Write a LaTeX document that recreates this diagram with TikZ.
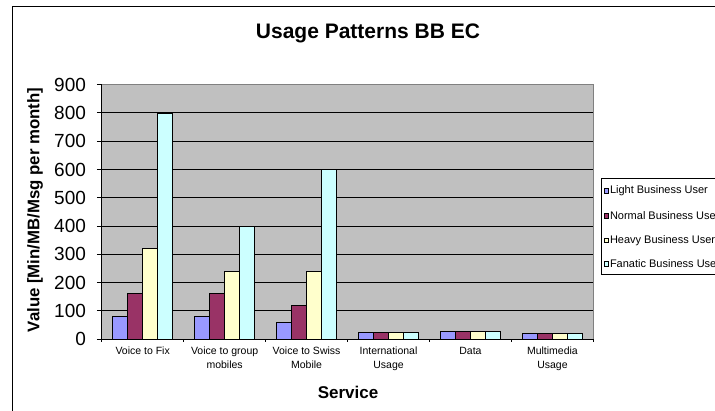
\documentclass[tikz,border=0pt]{standalone}
\usepackage{fontspec}
\setmainfont{Liberation Sans}
\definecolor{plotbg}{HTML}{C0C0C0}
\definecolor{plotedge}{HTML}{808080}
\definecolor{serLight}{HTML}{9999FF}
\definecolor{serNormal}{HTML}{993366}
\definecolor{serHeavy}{HTML}{FFFFCC}
\definecolor{serFanatic}{HTML}{CCFFFF}
\tikzset{
  barbox/.style={draw=black, line width=0.8pt},
  gridline/.style={draw=black, line width=0.9pt},
  axisline/.style={draw=black, line width=0.9pt},
  ticklab/.style={font=\fontsize{19}{19}\selectfont, inner sep=0pt, anchor=east},
  catlab/.style={font=\fontsize{10.5}{13.5}\selectfont, align=center, anchor=north, inner sep=0pt},
  legtext/.style={font=\fontsize{11}{13}\selectfont, anchor=west, inner sep=0pt},
  legmark/.style={draw=black, line width=0.6pt, minimum size=4.5pt, inner sep=0pt},
}
\begin{document}
\begin{tikzpicture}[x=1pt,y=1pt]
  \useasboundingbox (0,0) rectangle (715,410);
  \clip (0,0) rectangle (715,410);
  \fill[white] (0,0) rectangle (715,410);
  % chart frame
  \draw[line width=0.9pt] (12,404) rectangle (740,-20);

  % title
  \node[font=\bfseries\fontsize{21}{21}\selectfont] (title) at (368,377) {Usage Patterns BB EC};

  % plot area
  \begin{scope}[shift={(101.7pt,71pt)}, x=81.95pt, y=0.28256pt]
    \fill[plotbg] (0,0) rectangle (6,900);
    \foreach \v in {100,200,...,800} \draw[gridline] (0,\v) -- (6,\v);
    \draw[plotedge, line width=1pt] (0,900) -- (6,900) -- (6,0);
    % bars: light, normal, heavy, fanatic
    \foreach \i/\a/\b/\c/\d in {0/80/160/320/800, 1/80/160/240/400, 2/60/120/240/600,
                                3/23/23/23/23, 4/27/27/27/27, 5/20/20/20/20} {
      \draw[barbox, fill=serLight]   ({\i+0.75/5.5},0) rectangle ({\i+1.75/5.5},\a);
      \draw[barbox, fill=serNormal]  ({\i+1.75/5.5},0) rectangle ({\i+2.75/5.5},\b);
      \draw[barbox, fill=serHeavy]   ({\i+2.75/5.5},0) rectangle ({\i+3.75/5.5},\c);
      \draw[barbox, fill=serFanatic] ({\i+3.75/5.5},0) rectangle ({\i+4.75/5.5},\d);
    }
    % axes and ticks
    \draw[axisline] (0,900) -- (0,0) -- (6,0);
    \foreach \v in {0,100,...,900} {
      \draw[axisline] (-0.06,\v) -- (0,\v);
      \node[ticklab] (tick\v) at (-0.19,\v) {\v};
    }
    \foreach \k in {0,...,6} \draw[axisline] (\k,0) -- (\k,-12);
    % category labels
    \node[catlab] (c0) at (0.5,-28) {Voice to Fix};
    \node[catlab] (c1) at (1.5,-28) {Voice to group\\mobiles};
    \node[catlab] (c2) at (2.5,-28) {Voice to Swiss\\Mobile};
    \node[catlab] (c3) at (3.5,-28) {International\\Usage};
    \node[catlab] (c4) at (4.5,-28) {Data};
    \node[catlab] (c5) at (5.5,-28) {Multimedia\\Usage};
  \end{scope}

  % axis titles
  \node[font=\bfseries\fontsize{16.8}{16.8}\selectfont, rotate=90] (ytitle) at (35,200) {Value [Min/MB/Msg per month]};
  \node[font=\bfseries\fontsize{17}{17}\selectfont] (xtitle) at (348,18) {Service};

  % legend
  \draw[line width=0.8pt, fill=white] (601.7,135.7) rectangle (740,231.7);
  \foreach \n/\col/\yy/\txt in {l1/serLight/219.3/Light Business User,
                                l2/serNormal/194.0/Normal Business User,
                                l3/serHeavy/169.7/Heavy Business User,
                                l4/serFanatic/146.3/Fanatic Business User} {
    \node[legmark, fill=\col] (\n m) at (606.5,\yy) {};
    \node[legtext] (\n t) at (609.8,\yy) {\txt};
  }
\end{tikzpicture}
\end{document}
